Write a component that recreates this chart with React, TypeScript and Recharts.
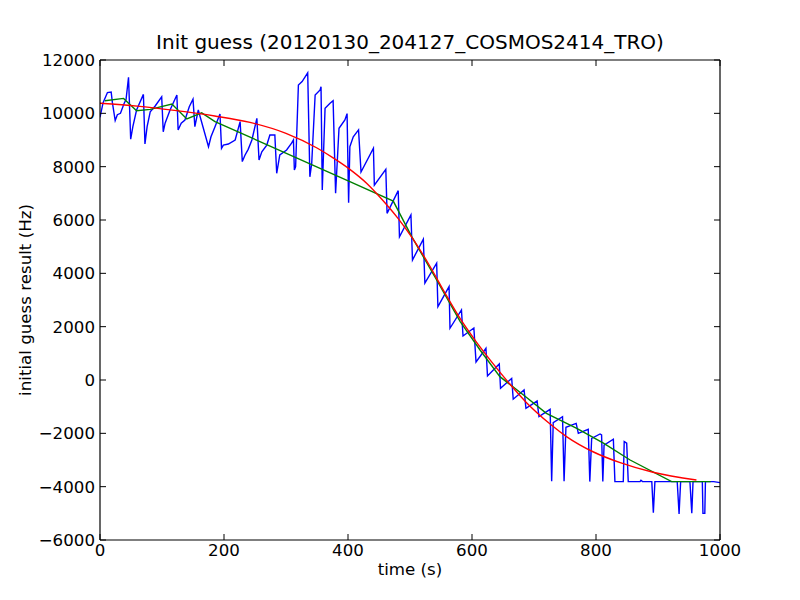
import React from 'react';
import { LineChart, Line, XAxis, YAxis } from 'recharts';

const xTicks = [0, 200, 400, 600, 800, 1000];
const yTicks = [-6000, -4000, -2000, 0, 2000, 4000, 6000, 8000, 10000, 12000];
const title = 'Init guess (20120130_204127_COSMOS2414_TRO)';
const xLabel = 'time (s)';
const yLabel = 'initial guess result (Hz)';

// [time (s), value (Hz)]
const bluePoints: [number, number][] = [
  [0, 9850], [5, 10400], [12, 10780], [18, 10800], [20, 10400], [24.5, 9730], [28, 9950], [33, 10000],
  [39, 10380], [42, 10520], [46, 11350], [49.5, 9030], [53, 9500], [59, 10125], [70, 10710], [72.5, 8850],
  [76, 9500], [81, 10060], [89, 10275], [99.5, 10620], [102, 9310], [105, 9630], [113, 10125], [124, 10690],
  [126, 9375], [131, 9630], [137, 9750], [144, 10250], [150, 10530], [153, 9500], [158.5, 10125], [175, 8750],
  [179, 9120], [185.5, 9500], [193.5, 9975], [196, 8690], [199, 8810], [207, 8850], [218, 9000], [226, 9690],
  [229.5, 8190], [234, 8440], [239, 8650], [245, 9000], [253, 9810], [256.5, 8250], [261, 8560], [269, 8810],
  [274, 9190], [282, 9190], [285, 7750], [290, 8440], [301, 8625], [309, 8880], [312, 9000], [313.5, 7875],
  [315.5, 8000], [320, 11060], [326, 11190], [335, 11520], [338.5, 7620], [341.5, 8130], [347, 10690],
  [355, 10875], [356.5, 11000], [358.5, 7125], [363, 10190], [371, 10375], [376, 10475], [380, 7000],
  [385.5, 9440], [395, 9750], [398.5, 9990], [401, 6650], [403, 8750], [408.5, 9120], [417, 9380],
  [421, 7800], [441, 8690], [442.5, 7310], [461, 7900], [463, 6250], [481, 7100], [483, 5370],
  [501.5, 6190], [504, 4500], [521.5, 5280], [524, 3630], [543, 4380], [545, 2750], [563, 3500],
  [564.5, 1940], [583, 2625], [585.5, 1650], [603, 1950], [606.5, 675], [622.5, 1190], [625, 150],
  [644, 600], [646, -310], [664, 60], [666.5, -720], [684, -375], [687, -1060], [705, -790], [708, -1375],
  [726, -1100], [728.5, -3800], [731, -1600], [746, -1375], [748.5, -3800], [751.5, -1775], [768, -1625],
  [771.5, -2000], [787.5, -1850], [790, -3810], [793, -2190], [806.5, -2025], [809, -2060], [811, -3810],
  [813, -2440], [828, -2220], [830.5, -3810], [844, -3810], [845.5, -2310], [849.5, -2370], [852, -3810],
  [871, -3810], [872.5, -3760], [875, -3810], [890, -3810], [892.5, -4980], [895, -3810], [931, -3810],
  [934, -5020], [936.5, -3810], [951.5, -3810], [954.5, -5000], [956.5, -3810], [971.5, -3810],
  [972.5, -5000], [975.5, -5000], [976.5, -3810], [990, -3810], [1000, -3850],
];

const greenPoints: [number, number][] = [
  [8, 10470], [38, 10560], [59, 10100], [81, 10150], [116, 10350], [140, 9790], [164, 10020],
  [185.5, 9690], [403, 7440], [473, 6710], [503, 5370], [543, 3750], [581, 2190], [613, 1125],
  [645, 125], [683, -560], [720, -1250], [769, -1810], [812, -2370], [855, -3000], [922, -3810],
  [985, -3810],
];

const redPoints: [number, number][] = [
  [0, 10380], [60, 10270], [120, 10110], [185, 9900], [242, 9660], [300, 9250], [350, 8700],
  [376, 8330], [403, 7900], [430, 7380], [456, 6740], [481, 6050], [503, 5350], [530, 4350],
  [556, 3280], [581, 2300], [606, 1460], [631, 700], [661, -150], [688, -850], [726, -1650],
  [753, -2130], [796, -2700], [839, -3100], [892, -3460], [962, -3750],
];

const toRows = (pts: [number, number][]) => pts.map(([t, v]) => ({ t, v }));
const blueData = toRows(bluePoints);
const greenData = toRows(greenPoints);
const redData = toRows(redPoints);

const FONT = "'DejaVu Sans', sans-serif";
const FS = 16.67;
const TICK = 6;
const fmt = (v: number) => (v < 0 ? '\u2212' + Math.abs(v) : String(v));

const BottomTick = (props: any) => {
  const { x, y, payload } = props;
  return (
    <g>
      <line x1={x} y1={y} x2={x} y2={y - TICK} stroke="#000" strokeWidth={1} />
      <text x={x} y={y + 16} textAnchor="middle" fontFamily={FONT} fontSize={FS} fill="#000">
        {fmt(payload.value)}
      </text>
    </g>
  );
};
const TopTick = (props: any) => {
  const { x, y } = props;
  return <line x1={x} y1={y} x2={x} y2={y + TICK} stroke="#000" strokeWidth={1} />;
};
const LeftTick = (props: any) => {
  const { x, y, payload } = props;
  return (
    <g>
      <line x1={x} y1={y} x2={x + TICK} y2={y} stroke="#000" strokeWidth={1} />
      <text x={x - 5} y={y + 6} textAnchor="end" fontFamily={FONT} fontSize={FS} fill="#000">
        {fmt(payload.value)}
      </text>
    </g>
  );
};
const RightTick = (props: any) => {
  const { x, y } = props;
  return <line x1={x} y1={y} x2={x - TICK} y2={y} stroke="#000" strokeWidth={1} />;
};

const W = 792;
const H = 592;

export default function App() {
  const axisLine = { stroke: '#000', strokeWidth: 1.2 };
  return (
    <div style={{ position: 'relative', width: W, height: H }}>
      <LineChart width={W} height={H} margin={{ top: 42, right: 70, bottom: 30, left: 32 }}>
        <XAxis
          xAxisId="b"
          dataKey="t"
          type="number"
          domain={[0, 1000]}
          ticks={xTicks}
          interval={0}
          allowDataOverflow
          orientation="bottom"
          height={30}
          tickLine={false}
          tickSize={0}
          tickMargin={0}
          tick={<BottomTick />}
          axisLine={axisLine}
        />
        <XAxis
          xAxisId="t"
          dataKey="t"
          type="number"
          domain={[0, 1000]}
          ticks={xTicks}
          interval={0}
          allowDataOverflow
          orientation="top"
          height={10}
          tickLine={false}
          tickSize={0}
          tickMargin={0}
          tick={<TopTick />}
          axisLine={axisLine}
        />
        <YAxis
          yAxisId="l"
          type="number"
          domain={[-6000, 12000]}
          ticks={yTicks}
          interval={0}
          allowDataOverflow
          orientation="left"
          width={60}
          tickLine={false}
          tickSize={0}
          tickMargin={0}
          tick={<LeftTick />}
          axisLine={axisLine}
        />
        <YAxis
          yAxisId="r"
          type="number"
          domain={[-6000, 12000]}
          ticks={yTicks}
          interval={0}
          allowDataOverflow
          orientation="right"
          width={10}
          tickLine={false}
          tickSize={0}
          tickMargin={0}
          tick={<RightTick />}
          axisLine={axisLine}
        />
        <Line xAxisId="b" yAxisId="l" data={blueData} dataKey="v" type="linear" stroke="#0000ff" strokeWidth={1.4} dot={false} isAnimationActive={false} />
        <Line xAxisId="b" yAxisId="l" data={greenData} dataKey="v" type="linear" stroke="#008000" strokeWidth={1.4} dot={false} isAnimationActive={false} />
        <Line xAxisId="b" yAxisId="l" data={redData} dataKey="v" type="monotone" stroke="#ff0000" strokeWidth={1.4} dot={false} isAnimationActive={false} />
      </LineChart>
      <svg width={W} height={H} style={{ position: 'absolute', left: 0, top: 0, pointerEvents: 'none' }}>
        <text x={402} y={41} textAnchor="middle" fontFamily={FONT} fontSize={20} fill="#000">{title}</text>
        <text x={402} y={567} textAnchor="middle" fontFamily={FONT} fontSize={FS} fill="#000">{xLabel}</text>
        <text x={22.5} y={292} textAnchor="middle" fontFamily={FONT} fontSize={FS} fill="#000" transform="rotate(-90 22.5 292)">{yLabel}</text>
      </svg>
    </div>
  );
}
